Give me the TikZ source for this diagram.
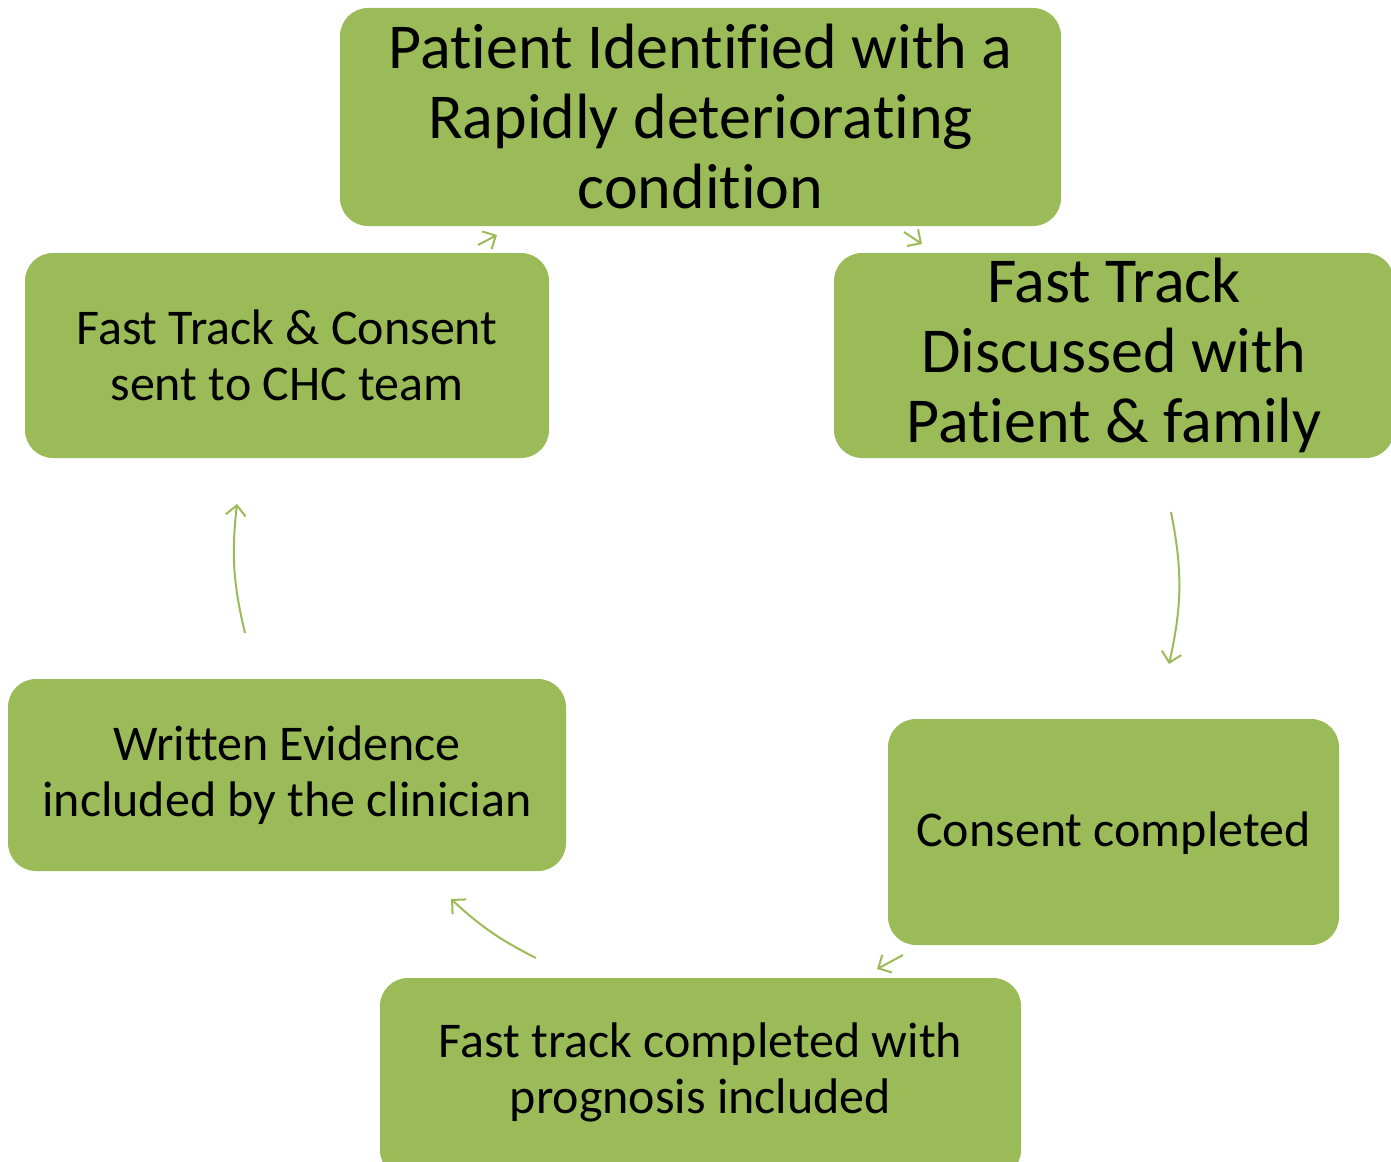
\documentclass[tikz,border=0pt]{standalone}
\usepackage{fontspec}
\setmainfont[Ligatures={NoCommon}]{Carlito}
\usetikzlibrary{arrows.meta}
\definecolor{boxgreen}{HTML}{9BBB59}
\newcommand{\shifttext}[2]{\raisebox{#1}[\height][\depth]{\setlength{\tabcolsep}{0pt}\begin{tabular}{c}#2\end{tabular}}}

\begin{document}
\begin{tikzpicture}[x=1pt,y=-1pt,
    stepbox/.style={fill=boxgreen,rounded corners=28pt,align=center,inner sep=0pt},
    bigtext/.style={font=\fontsize{64}{70}\selectfont},
    smalltext/.style={font=\fontsize{50}{56}\selectfont},
    flow/.style={draw=boxgreen,line width=2pt,-{Straight Barb[length=10pt,width=20pt,line width=2pt]}}]
                    \useasboundingbox (0,0) rectangle (1391,1161);
                    % boxes
                    \node[stepbox,bigtext,minimum width=721pt,minimum height=218pt] at (700.5,117) (ident) {Patient Identified with a\\Rapidly deteriorating\\condition};
                    \node[stepbox,bigtext,minimum width=560pt,minimum height=205pt] at (1114,355.5) (discuss) {Fast Track\\Discussed with\\Patient \& family};
                    \node[stepbox,smalltext,minimum width=451pt,minimum height=226pt] at (1113.5,832) (consent) {\shifttext{-3pt}{Consent completed}};
                    \node[stepbox,smalltext,minimum width=641pt,minimum height=200pt] at (700.5,1078) (prog) {\shifttext{4pt}{Fast track completed with\\prognosis included}};
                    \node[stepbox,smalltext,minimum width=558pt,minimum height=192pt] at (287,775) (evid) {Written Evidence\\included by the clinician};
                    \node[stepbox,smalltext,minimum width=524pt,minimum height=205pt] at (287,355.5) (sent) {Fast Track \& Consent\\sent to CHC team};

                    % arrow ends
                    \coordinate (a1) at (478,245); \coordinate (b1) at (497,235);
                    \coordinate (a2) at (904,232); \coordinate (b2) at (922,244);
                    \coordinate (a3) at (1171,512); \coordinate (b3) at (1169,664);
                    \coordinate (a4) at (903,955); \coordinate (b4) at (877,969);
                    \coordinate (a5) at (536,958); \coordinate (b5) at (451,899);
                    \coordinate (a6) at (245,633); \coordinate (b6) at (237,504);

                    \draw[flow] (a1) -- (b1);
                    \draw[flow] (a2) -- (b2);
                    \draw[flow] (a3) to[bend left=12] (b3);
                    \draw[flow] (a4) -- (b4);
                    \draw[flow] (a5) to[bend left=8] (b5);
                    \draw[flow] (a6) to[bend left=10] (b6);
                \end{tikzpicture}
\end{document}
